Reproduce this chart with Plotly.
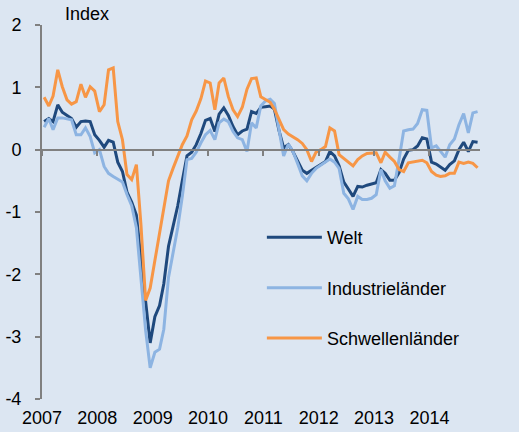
import plotly.graph_objects as go

# Monthly observations, Jan 2007 - Nov 2014 (plotted mid-month)
months = [f"{2007 + i // 12}-{i % 12 + 1:02d}-15" for i in range(95)]

welt = [0.45, 0.50, 0.45, 0.72, 0.60, 0.55, 0.50, 0.36, 0.45, 0.46, 0.45, 0.24,
        0.15, 0.04, 0.15, 0.12, -0.20, -0.35, -0.68, -0.84, -1.05, -1.75, -2.45, -3.10,
        -2.68, -2.50, -2.15, -1.55, -1.23, -0.90, -0.50, -0.10, -0.04, 0.08, 0.26, 0.47,
        0.50, 0.29, 0.57, 0.67, 0.55, 0.37, 0.24, 0.30, 0.33, 0.61, 0.58, 0.68,
        0.69, 0.70, 0.65, 0.30, 0.03, 0.08, -0.03, -0.18, -0.33, -0.38, -0.33, -0.28,
        -0.24, -0.19, -0.03, -0.10, -0.26, -0.52, -0.63, -0.75, -0.59, -0.60, -0.57, -0.55,
        -0.53, -0.32, -0.38, -0.49, -0.49, -0.37, -0.15, -0.01, 0.00, 0.06, 0.19, 0.17,
        -0.20, -0.23, -0.28, -0.33, -0.24, -0.18, 0.00, 0.12, -0.03, 0.13, 0.12]

industrie = [0.36, 0.50, 0.32, 0.51, 0.51, 0.50, 0.48, 0.24, 0.24, 0.35, 0.21, -0.05,
             0.00, -0.27, -0.38, -0.43, -0.47, -0.52, -0.72, -0.90, -1.25, -2.10, -2.90, -3.50,
             -3.25, -3.20, -2.88, -2.05, -1.66, -1.25, -0.75, -0.16, -0.14, -0.04, 0.11, 0.24,
             0.31, 0.16, 0.43, 0.49, 0.45, 0.29, 0.19, 0.16, -0.03, 0.43, 0.35, 0.70,
             0.78, 0.81, 0.74, 0.30, -0.10, 0.09, -0.03, -0.22, -0.42, -0.50, -0.38, -0.30,
             -0.25, -0.21, -0.15, -0.20, -0.30, -0.70, -0.79, -0.96, -0.75, -0.80, -0.80, -0.78,
             -0.72, -0.32, -0.50, -0.62, -0.58, -0.15, 0.30, 0.32, 0.33, 0.42, 0.64, 0.63,
             0.03, 0.06, -0.02, -0.12, 0.08, 0.17, 0.40, 0.58, 0.27, 0.59, 0.61]

schwellen = [0.84, 0.70, 0.86, 1.28, 1.01, 0.80, 0.73, 0.77, 1.05, 0.84, 1.01, 0.94,
             0.61, 0.72, 1.28, 1.31, 0.45, 0.16, -0.40, -0.48, -0.24, -1.20, -2.42, -2.22,
             -1.78, -1.35, -0.95, -0.50, -0.30, -0.10, 0.08, 0.22, 0.48, 0.62, 0.82, 1.10,
             1.07, 0.64, 1.07, 1.15, 0.85, 0.64, 0.53, 0.68, 0.97, 1.14, 1.15, 0.85,
             0.80, 0.76, 0.65, 0.48, 0.32, 0.25, 0.21, 0.16, 0.10, 0.00, -0.19, -0.04,
             0.00, 0.05, 0.35, 0.30, -0.08, -0.14, -0.20, -0.26, -0.16, -0.10, -0.06, -0.05,
             -0.05, -0.21, -0.04, -0.12, -0.19, -0.32, -0.35, -0.21, -0.20, -0.19, -0.17, -0.21,
             -0.35, -0.41, -0.43, -0.42, -0.38, -0.38, -0.20, -0.22, -0.20, -0.22, -0.29]

series_names = ["Welt", "Industrieländer", "Schwellenländer"]
series_colors = ["#1F497D", "#8DB4E2", "#F79646"]

y_tick_vals = [-4, -3, -2, -1, 0, 1, 2]
y_tick_text = ["-4", "-3", "-2", "-1", "0", "1", "2"]

x_range = ["2007-01-01", "2014-12-01"]

BG = "#DCE6F2"
AXIS = "#808080"
FONT = "Liberation Sans, Arial, sans-serif"

fig = go.Figure()
for i, (name, vals, col) in enumerate(zip(series_names, [welt, industrie, schwellen], series_colors)):
    fig.add_trace(go.Scatter(x=months, y=vals, name=name, mode="lines",
                             line=dict(color=col, width=3),
                             legendgroup=name, legendrank=i + 1))

# invisible trace to carry the zero-line axis with yearly ticks
fig.add_trace(go.Scatter(x=x_range, y=[0, 0], xaxis="x2", mode="lines",
                         line=dict(width=0), showlegend=False, hoverinfo="skip"))

fig.update_layout(
    width=519, height=432,
    margin=dict(l=42, r=39, t=25, b=33, autoexpand=False),
    paper_bgcolor=BG, plot_bgcolor=BG,
    font=dict(family=FONT, size=18, color="black"),
    showlegend=True,
    legend=dict(x=0.502, y=0.481, xanchor="left", yanchor="top",
                bgcolor="rgba(0,0,0,0)", font=dict(size=18),
                tracegroupgap=24, itemwidth=55, traceorder="grouped"),
    xaxis=dict(type="date", range=x_range, showgrid=False, zeroline=False,
               showline=False, ticks="", tickformat="%Y", dtick="M12",
               tick0="2007-01-01", ticklabelstandoff=6, automargin=False,
               tickfont=dict(size=18)),
    xaxis2=dict(type="date", range=x_range, overlaying="x", anchor="free",
                position=4 / 6, side="bottom", showgrid=False, zeroline=False,
                showline=True, linecolor=AXIS, linewidth=2, automargin=False,
                ticks="outside", ticklen=5, tickwidth=2, tickcolor=AXIS,
                dtick="M12", tick0="2007-01-01", showticklabels=False),
    yaxis=dict(range=[-4, 2], tickvals=y_tick_vals, ticktext=y_tick_text,
               showgrid=False, zeroline=False, showline=True, automargin=False,
               linecolor=AXIS, linewidth=2, ticks="outside", ticklen=5,
               tickwidth=2, tickcolor=AXIS, ticklabelstandoff=10,
               tickfont=dict(size=18)),
    annotations=[dict(text="Index", xref="paper", yref="paper",
                      x=0.048, y=1.03, xanchor="left", yanchor="middle",
                      showarrow=False, font=dict(size=18, family=FONT))],
)

fig.write_html(
    "out.html",
    config={"displayModeBar": False},
    post_script="document.body.style.margin='0';document.body.style.background='" + BG + "';",
)
